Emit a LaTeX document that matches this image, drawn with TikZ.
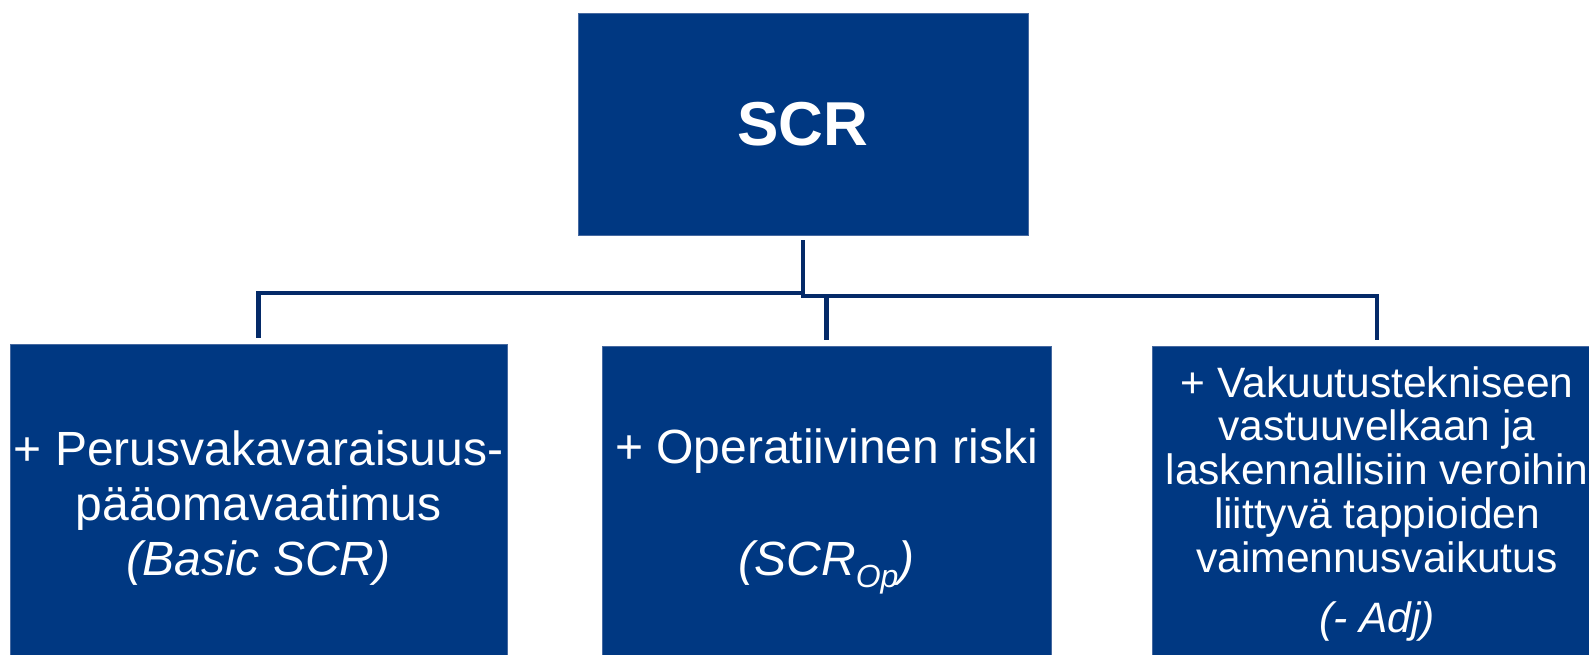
\documentclass[tikz,border=0pt]{standalone}
\usepackage{fontspec}
\setmainfont{Liberation Sans}
\definecolor{boxfill}{RGB}{0,56,130}
\definecolor{boxedge}{RGB}{70,105,160}
\definecolor{linkcol}{RGB}{4,42,104}
\tikzset{
  block/.style={rectangle, fill=boxfill, draw=boxedge, line width=0.8pt, inner sep=0pt},
  conn/.style={draw=linkcol, line width=4.3pt},
  lbl/.style={anchor=base, inner sep=0pt, text=white},
  bigfont/.style={font=\fontsize{48}{55}\selectfont},
  midfont/.style={font=\fontsize{42.5}{44}\selectfont},
  topfont/.style={font=\bfseries\fontsize{62}{66}\selectfont}
}
\begin{document}
\begin{tikzpicture}[x=1pt,y=-1pt]
\useasboundingbox (0,0) rectangle (1589,655);
\clip (0,0) rectangle (1589,655);

% boxes
\node[block, minimum width=450pt, minimum height=222pt] (scr) at (803,124) {};
\node[block, minimum width=497pt, minimum height=316pt] (basic) at (258.5,502) {};
\node[block, minimum width=449pt, minimum height=314pt] (oprisk) at (826.5,503) {};
\node[block, minimum width=450pt, minimum height=314pt] (adj) at (1377,503) {};

% connectors
\coordinate (busL) at (0,293);
\coordinate (busR) at (0,296);
\draw[conn] ([yshift=-5pt]scr.south) -- (scr.south |- busL) -| ([yshift=6pt]basic.north);
\draw[conn] ([yshift=-5pt]scr.south) -- (scr.south |- busR) -| ([yshift=6pt]oprisk.north);
\draw[conn] (scr.south |- busR) -| ([yshift=6pt]adj.north);

% top label
\node[lbl, topfont] (scrt) at (803,146) {SCR};

% left box text
\node[lbl, bigfont] (b1) at (258.5,465) {+ Perusvakavaraisuus-};
\node[lbl, bigfont] (b2) at (258.5,520) {pääomavaatimus};
\node[lbl, bigfont] (b3) at (258.5,575) {\itshape (Basic SCR)};

% middle box text
\node[lbl, bigfont] (o1) at (826.5,463) {+ Operatiivinen riski};
\node[lbl, bigfont] (o2) at (826.5,575) {\itshape (SCR\raisebox{-12pt}{\fontsize{32}{32}\selectfont Op})};

% right box text
\node[lbl, midfont] (a1) at (1377,397) {+ Vakuutustekniseen};
\node[lbl, midfont] (a2) at (1377,440.5) {vastuuvelkaan ja};
\node[lbl, midfont] (a3) at (1377,484.5) {laskennallisiin veroihin};
\node[lbl, midfont] (a4) at (1377,528) {liittyvä tappioiden};
\node[lbl, midfont] (a5) at (1377,572) {vaimennusvaikutus};
\node[lbl, midfont] (a6) at (1377,632) {\itshape (- Adj)};
\end{tikzpicture}
\end{document}
